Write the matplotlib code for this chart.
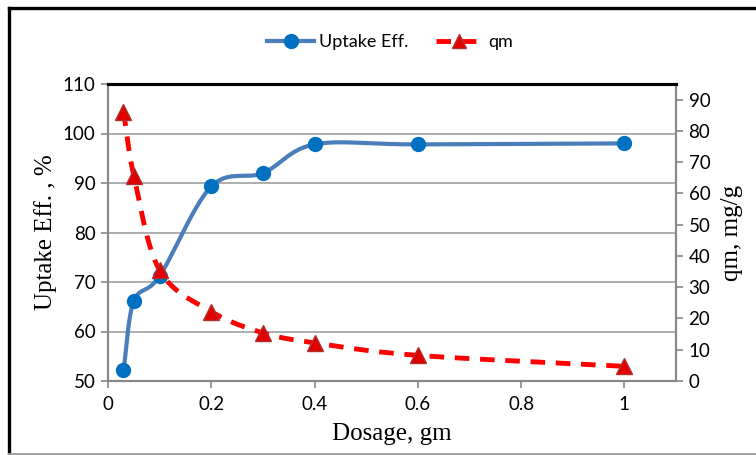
import numpy as np
import matplotlib.pyplot as plt
from matplotlib.lines import Line2D

dosage = [0.03, 0.05, 0.1, 0.2, 0.3, 0.4, 0.6, 1.0]
uptake = [52.2, 66.1, 71.2, 89.3, 92.0, 97.8, 97.8, 98.0]
qm = [86.2, 65.7, 35.4, 22.2, 15.4, 12.2, 8.2, 4.7]

x_ticks = [0, 0.2, 0.4, 0.6, 0.8, 1]
x_labels = ["0", "0.2", "0.4", "0.6", "0.8", "1"]


def smooth(xs, ys, n=30):
    # excel-like smoothed line (catmull-rom through the points)
    xs = np.asarray(xs, float)
    ys = np.asarray(ys, float)
    px = np.concatenate([[2 * xs[0] - xs[1]], xs, [2 * xs[-1] - xs[-2]]])
    py = np.concatenate([[2 * ys[0] - ys[1]], ys, [2 * ys[-1] - ys[-2]]])
    ox, oy = [], []
    t = np.linspace(0, 1, n)
    for i in range(1, len(px) - 2):
        for arr, out in ((px, ox), (py, oy)):
            p0, p1, p2, p3 = arr[i - 1], arr[i], arr[i + 1], arr[i + 2]
            c1 = p1 + (p2 - p0) / 6
            c2 = p2 - (p3 - p1) / 6
            out.extend((1 - t) ** 3 * p1 + 3 * (1 - t) ** 2 * t * c1
                       + 3 * (1 - t) * t ** 2 * c2 + t ** 3 * p2)
    return np.array(ox), np.array(oy)


tick_font = "Lato"
title_font = "Liberation Serif"
grey = "#888888"

fig = plt.figure(figsize=(7.56, 4.55), dpi=100)
# chart frame: black left/top, grey bottom
fl, ft, fb = 9 / 756, 1 - 8 / 455, 1.5 / 455
fig.add_artist(Line2D([fl, fl], [fb, ft], transform=fig.transFigure,
                      color="black", linewidth=2.4))
fig.add_artist(Line2D([fl, 1], [ft, ft], transform=fig.transFigure,
                      color="black", linewidth=2.4))
fig.add_artist(Line2D([fl, 1], [fb, fb], transform=fig.transFigure,
                      color="#a0a0a0", linewidth=2))

ax = fig.add_axes([108 / 756, 1 - 381 / 455, (676 - 108) / 756, (381 - 84) / 455])
ax2 = ax.twinx()

ax.set_xlim(0, 1.1)
ax.set_ylim(50, 110)
ax2.set_ylim(0, 95)

ax.set_yticks(range(50, 111, 10))
ax2.set_yticks(range(0, 91, 10))
ax.set_xticks(x_ticks)
ax.set_xticklabels(x_labels)

ax.grid(axis="y", color="#a0a0a0", linewidth=1.2)
ax.set_axisbelow(True)

for a in (ax, ax2):
    for s in ("left", "right", "bottom"):
        a.spines[s].set_color(grey)
        a.spines[s].set_linewidth(1.5)
    a.spines["top"].set_color("black")
    a.spines["top"].set_linewidth(2.2)
    a.tick_params(direction="out", length=5, color=grey, width=1.2,
                  labelsize=13.5, pad=4)
    for lab in a.get_xticklabels() + a.get_yticklabels():
        lab.set_fontfamily(tick_font)
ax.tick_params(axis="x", pad=6)

sx, sy = smooth(dosage, uptake)
ax.plot(sx, sy, color="#4a7ebb", linewidth=3, zorder=3)
ax.plot(dosage, uptake, "o", color="#0070c0", markersize=10, zorder=4)

qx, qy = smooth(dosage, qm)
ax2.plot(qx, qy, color="#ff0000", linewidth=3.5, dashes=(3, 2.2), zorder=3)
ax2.plot(dosage, qm, "^", color="#e00000", markeredgecolor="#b03030",
         markersize=11, zorder=4)

ax.set_xlabel("Dosage, gm", fontfamily=title_font, fontsize=18, labelpad=7)
ax.set_ylabel("Uptake Eff. , %", fontfamily=title_font, fontsize=18, labelpad=4)
ax2.set_ylabel("qm, mg/g", fontfamily=title_font, fontsize=18, labelpad=8)

h1, = ax.plot([], [], color="#4a7ebb", linewidth=3, marker="o",
              markerfacecolor="#0070c0", markeredgecolor="#0070c0", markersize=10)
h2, = ax.plot([], [], color="#ff0000", linewidth=3.5, dashes=(3, 2.2), marker="^",
              markerfacecolor="#e00000", markeredgecolor="#b03030", markersize=10)
fig.legend([h1, h2], ["Uptake Eff.", "qm"], loc="center", ncol=2,
           bbox_to_anchor=(390 / 756, 1 - 42 / 455), frameon=False,
           prop={"family": tick_font, "size": 13}, handlelength=2.6,
           columnspacing=1.5, handletextpad=0.3)

fig.savefig("out.png", dpi=100)
